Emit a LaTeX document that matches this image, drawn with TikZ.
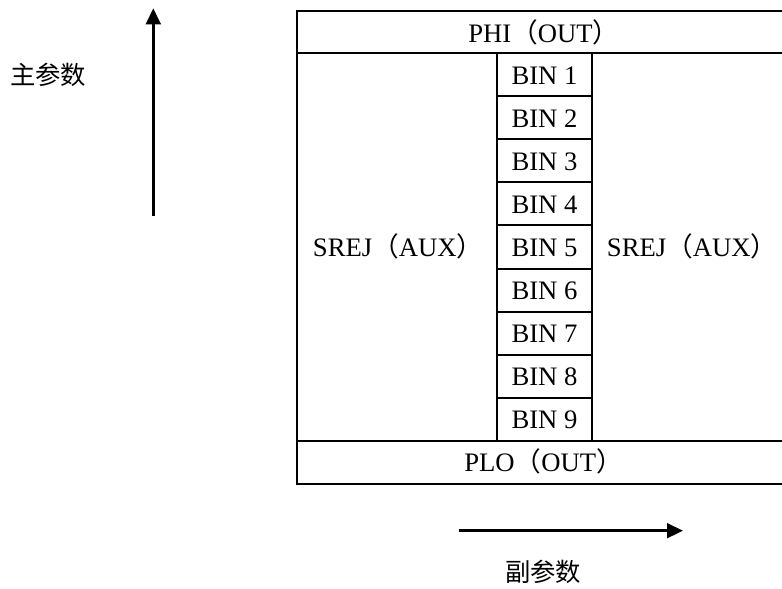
\documentclass[tikz,border=0pt]{standalone}
\usepackage{fontspec}
\setmainfont{Liberation Serif}
\newfontfamily\cjk{Noto Sans CJK SC}
\usetikzlibrary{arrows.meta}
\newcommand{\zlp}{{\cjk （}}
\newcommand{\zrp}{{\cjk ）}}
\begin{document}
\begin{tikzpicture}[x=0.75pt,y=-0.75pt,
  gridline/.style={line width=1.5pt},
  lbl/.style={anchor=base,inner sep=0pt,font=\fontsize{20}{24}\selectfont},
  cjklbl/.style={inner sep=0pt,font=\cjk\fontsize{19}{22}\selectfont},
  axis/.style={line width=2pt,-{Triangle[length=12pt,width=11pt]}}]
\useasboundingbox (0,0) rectangle (782,589);
\clip (0,0) rectangle (782,589);
% table frame
\draw[gridline] (297,11) rectangle (790,483.5);
\draw[gridline] (297,53.3) -- (790,53.3);
\draw[gridline] (297,440.7) -- (790,440.7);
\draw[gridline] (497.3,53.3) -- (497.3,440.7);
\draw[gridline] (591.7,53.3) -- (591.7,440.7);
\foreach \k in {1,...,8}
  \draw[gridline] (497.3,{53.3+43.04*\k}) -- (591.7,{53.3+43.04*\k});
% labels
\node[lbl,anchor=base west] (phi) at (468,42.4) {PHI\zlp OUT\zrp};
\node[lbl,anchor=base west] (plo) at (464,471.8) {PLO\zlp OUT\zrp};
\node[lbl,anchor=base west] (srejL) at (312.7,256.8) {SREJ\zlp AUX\zrp};
\node[lbl,anchor=base west] (srejR) at (606.7,256.8) {SREJ\zlp AUX\zrp};
\foreach \k in {1,...,9}
  \node[lbl] (bin\k) at (544.5,{53.3+43.04*(\k-0.5)+9.7}) {BIN \k};
% axes
\coordinate (v0) at (153.3,216);
\coordinate (v1) at (153.3,8.3);
\draw[axis] (v0) -- (v1);
\coordinate (h0) at (459.3,530.7);
\coordinate (h1) at (683,530.7);
\draw[axis] (h0) -- (h1);
\node[cjklbl] (main) at (48,75) {主参数};
\node[cjklbl] (sub) at (543.3,571.5) {副参数};
\end{tikzpicture}
\end{document}
